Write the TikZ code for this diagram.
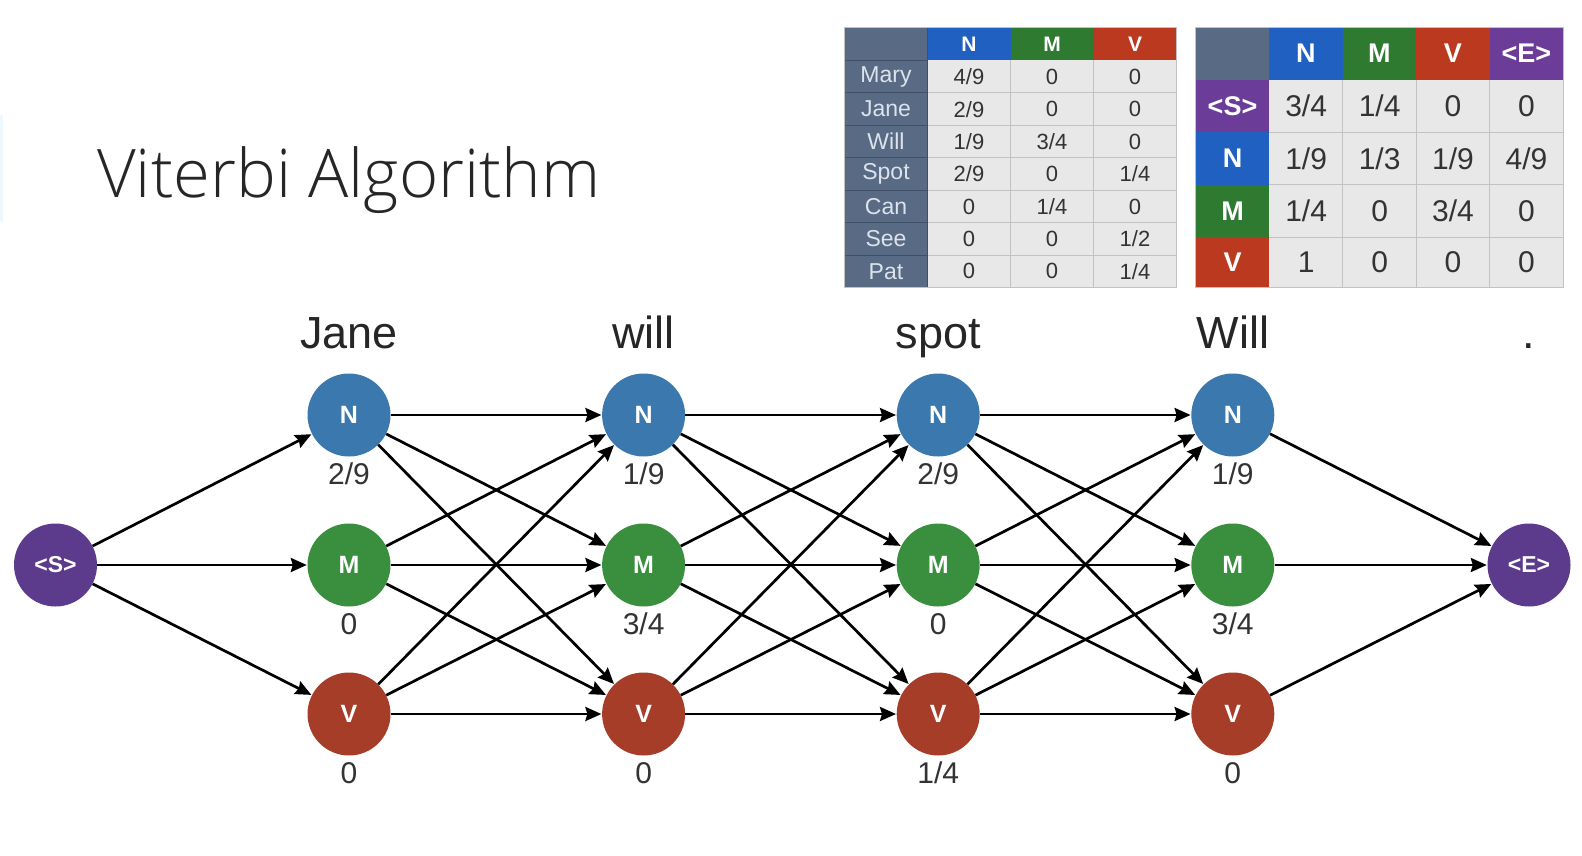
\documentclass[tikz,border=0pt]{standalone}
\usepackage{fontspec}
\setmainfont{Liberation Sans}
\IfFontExistsTF{Open Sans Light}
  {\newfontfamily\titlefont{Open Sans Light}}
  {\newfontfamily\titlefont{Open Sans}}
\usetikzlibrary{arrows.meta}

\definecolor{nodeN}{HTML}{3B78AE}
\definecolor{nodeM}{HTML}{3A8F3E}
\definecolor{nodeV}{HTML}{A63D28}
\definecolor{nodeP}{HTML}{5C3A8C}
\definecolor{hdrN}{HTML}{2060C0}
\definecolor{hdrM}{HTML}{2E7A30}
\definecolor{hdrV}{HTML}{BB3A1F}
\definecolor{hdrP}{HTML}{6B3D99}
\definecolor{slate}{HTML}{586A84}
\definecolor{slateline}{HTML}{3F4F66}
\definecolor{cellgray}{HTML}{E8E8E8}
\definecolor{gridgray}{HTML}{C2C2C2}
\definecolor{txtgray}{HTML}{333333}
\definecolor{lbltxt}{HTML}{DCE3EC}

\newcommand\fr[2]{#1/#2}
\newcommand\fs[1]{\fontsize{#1}{#1}\selectfont}

\tikzset{
  state/.style={circle, minimum size=83pt, inner sep=0pt, text=white,
    font=\bfseries\fs{25}},
  edge/.style={draw=black, line width=2.7pt,
    -{Stealth[length=16pt, width=14pt, inset=2pt]}, shorten >=0.5pt},
  word/.style={anchor=base, font=\fs{45}, text=black!85},
  score/.style={anchor=base, font=\fs{30}, text=txtgray},
  cellA/.style={font=\fs{22}, text=txtgray, inner sep=0pt},
  lblA/.style={font=\fs{23}, text=lbltxt, inner sep=0pt},
  hdrA/.style={font=\bfseries\fs{21}, text=white, inner sep=0pt},
  cellB/.style={font=\fs{30}, text=txtgray, inner sep=0pt},
  hdrB/.style={font=\bfseries\fs{27}, text=white, inner sep=0pt},
}

\begin{document}
\begin{tikzpicture}[x=1pt, y=-1pt]
\fill[white] (0,0) rectangle (1582,856);
\useasboundingbox (0,0) rectangle (1582,856);

% faint accent strip on the left edge
\fill[cyan!7] (0,115) rectangle (3,222);

% title
\node[anchor=base west, inner sep=0pt, font=\titlefont\fs{67}, text=black!85]
  (title) at (97,197) {Viterbi Algorithm};

% ---------- emission table ----------
\fill[slate] (844.5,27.2) rectangle (927.5,287.5);
\fill[cellgray] (927.5,60.5) rectangle (1176.5,287.5);
\fill[hdrN] (927.5,27.2) rectangle (1010.5,60.5);
\fill[hdrM] (1010.5,27.2) rectangle (1093.5,60.5);
\fill[hdrV] (1093.5,27.2) rectangle (1176.5,60.5);
\foreach \r in {1,...,6} {
  \draw[slateline, line width=1pt] (844.5,{60.5+32.43*\r}) -- (927.5,{60.5+32.43*\r});
  \draw[gridgray, line width=1pt] (927.5,{60.5+32.43*\r}) -- (1176.5,{60.5+32.43*\r});
}
\draw[slateline, line width=1pt] (844.5,60.5) -- (927.5,60.5);
\foreach \c in {1010.5,1093.5}
  \draw[gridgray, line width=1pt] (\c,60.5) -- (\c,287.5);
\draw[slateline, line width=1pt] (927.5,27.2) -- (927.5,287.5);
\draw[gridgray, line width=0.8pt] (844.5,27.2) rectangle (1176.5,287.5);
\foreach \h [count=\c] in {N,M,V}
  \node[hdrA] (ea-h\c) at ({844.5+83*(\c+0.5)},44) {\h};
\foreach \w/\a/\b/\v [count=\r] in {
    Mary/\fr49/0/0, Jane/\fr29/0/0, Will/\fr19/\fr34/0, Spot/\fr29/0/\fr14,
    Can/0/\fr14/0, See/0/0/\fr12, Pat/0/0/\fr14} {
  \node[lblA] (ea-\r-0) at (886,{60.5+32.43*(\r-0.5)}) {\w};
  \node[cellA] (ea-\r-1) at (969,{60.5+32.43*(\r-0.5)}) {\a};
  \node[cellA] (ea-\r-2) at (1052,{60.5+32.43*(\r-0.5)}) {\b};
  \node[cellA] (ea-\r-3) at (1135,{60.5+32.43*(\r-0.5)}) {\v};
}

% ---------- transition table ----------
\fill[cellgray] (1269.3,79.7) rectangle (1563,287.6);
\fill[slate] (1195.7,27.2) rectangle (1269.3,79.7);
\foreach \col [count=\c] in {hdrN,hdrM,hdrV,hdrP}
  \fill[\col] ({1195.7+73.46*\c},27.2) rectangle ({1195.7+73.46*(\c+1)},79.7);
\foreach \col/\t/\b in {hdrP/79.7/132.2, hdrN/132.2/184.6, hdrM/184.6/237.1, hdrV/237.1/287.6}
  \fill[\col] (1195.7,\t) rectangle (1269.3,\b);
\foreach \y in {132.2,184.6,237.1}
  \draw[gridgray, line width=1pt] (1269.3,\y) -- (1563,\y);
\foreach \c in {2,3,4}
  \draw[gridgray, line width=1pt] ({1195.7+73.46*\c},79.7) -- ({1195.7+73.46*\c},287.6);
\draw[gridgray, line width=0.8pt] (1195.7,27.2) rectangle (1563,287.6);
\foreach \h [count=\c] in {N,M,V,<E>}
  \node[hdrB] (tb-h\c) at ({1195.7+73.46*(\c+0.5)},53.5) {\h};
\foreach \h/\y [count=\r] in {<S>/106, N/158.4, M/210.9, V/262.4}
  \node[hdrB] (tb-\r-0) at (1232.5,\y) {\h};
\foreach \a/\b/\v/\e/\y [count=\r] in {
    \fr34/\fr14/0/0/106, \fr19/\fr13/\fr19/\fr49/158.4,
    \fr14/0/\fr34/0/210.9, 1/0/0/0/262.4} {
  \node[cellB] (tb-\r-1) at (1306.1,\y) {\a};
  \node[cellB] (tb-\r-2) at (1379.6,\y) {\b};
  \node[cellB] (tb-\r-3) at (1453.0,\y) {\v};
  \node[cellB] (tb-\r-4) at (1526.5,\y) {\e};
}

% ---------- trellis ----------
\node[state, fill=nodeP, font=\bfseries\fs{23}] (S) at (55.5,565) {<S>};
\node[state, fill=nodeP, font=\bfseries\fs{23}] (E) at (1529,565) {<E>};

\foreach \x/\w/\sn/\sm/\sv [count=\i] in {
    349/Jane/\fr29/0/0, 643.6/will/\fr19/\fr34/0,
    938.2/spot/\fr29/0/\fr14, 1232.8/Will/\fr19/\fr34/0} {
  \node[word] (w\i) at (\x,348) {\w};
  \node[state, fill=nodeN] (N\i) at (\x,415) {N};
  \node[state, fill=nodeM] (M\i) at (\x,565) {M};
  \node[state, fill=nodeV] (V\i) at (\x,714) {V};
  \node[score] (sN\i) at (\x,484) {\sn};
  \node[score] (sM\i) at (\x,634) {\sm};
  \node[score] (sV\i) at (\x,783) {\sv};
}
\node[word] (w5) at (1529,348) {.};

% transitions
\foreach \b in {N,M,V} {
  \draw[edge] (S) -- (\b1);
  \draw[edge] (\b4) -- (E);
}
\foreach \i/\j in {1/2,2/3,3/4}
  \foreach \a in {N,M,V}
    \foreach \b in {N,M,V}
      \draw[edge] (\a\i) -- (\b\j);
\end{tikzpicture}
\end{document}
